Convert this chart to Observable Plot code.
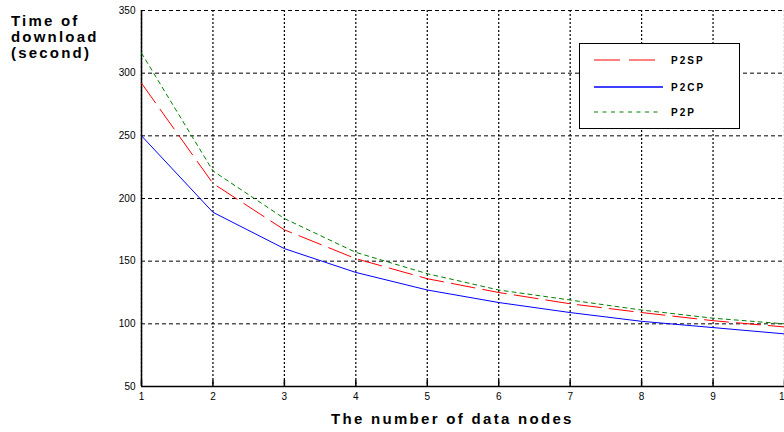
<!DOCTYPE html>
<html>
<head>
<meta charset="utf-8">
<script src="https://cdn.jsdelivr.net/npm/d3@7"></script>
<script src="https://cdn.jsdelivr.net/npm/@observablehq/plot@0.6"></script>
<style>
  body { margin: 0; background: #fff; }
  #wrap { position: relative; width: 784px; height: 432px; overflow: hidden; font-family: "Liberation Sans", Arial, sans-serif; background: #fff; }
  #ylabel { position: absolute; left: 11px; top: 13px; font-weight: bold; font-size: 15px; letter-spacing: 2.2px; line-height: 16px; color: #000; }
  #xlabel { position: absolute; left: 331px; top: 411px; font-weight: bold; font-size: 15px; letter-spacing: 2.3px; line-height: 15px; color: #000; white-space: nowrap; }
  #legend { position: absolute; left: 579px; top: 43px; width: 159px; height: 84px; border: 1.5px solid #000; background: #fff; }
  #legend svg { position: absolute; left: 0; top: 0; }
  #legend text { font-family: "Liberation Sans", Arial, sans-serif; font-size: 10px; font-weight: bold; letter-spacing: 2px; }
  .plot text { letter-spacing: 1px; }
</style>
</head>
<body>
<div id="wrap">
  <div id="chart"></div>
  <div id="ylabel">Time of<br>download<br>(second)</div>
  <div id="xlabel">The number of data nodes</div>
  <div id="legend"></div>
</div>
<script>
const nodes = [1, 2, 3, 4, 5, 6, 7, 8, 9, 10];
const p2sp = [292, 212, 175, 152, 136, 125, 116, 109, 102.5, 97.5];
const p2cp = [250, 189, 160, 141, 127, 117, 109, 102, 97, 92];
const p2p  = [316, 222, 184, 157, 140, 127, 119, 111, 104.5, 100];
const xTicks = [1, 2, 3, 4, 5, 6, 7, 8, 9, 10];
const yTicks = [50, 100, 150, 200, 250, 300, 350];
const seriesNames = ["P2SP", "P2CP", "P2P"];
const seriesColors = ["#ff0000", "#0000ff", "#008000"];
const seriesDash = ["24,8", null, "4,4"];

const rows = (vals) => nodes.map((n, i) => ({x: n, y: vals[i]}));

const chart = Plot.plot({
  width: 784,
  height: 432,
  marginLeft: 141,
  marginRight: 0,
  marginTop: 10,
  marginBottom: 46,
  style: { background: "#fff", fontFamily: "Liberation Sans, Arial, sans-serif", fontSize: "10px", color: "#000" },
  x: { domain: [1, 10], label: null },
  y: { domain: [50, 350], label: null },
  marks: [
    Plot.gridX(xTicks, { stroke: "#000", strokeOpacity: 1, strokeWidth: 1.2, strokeDasharray: "2,2" }),
    Plot.gridY(yTicks, { stroke: "#000", strokeOpacity: 1, strokeWidth: 1, strokeDasharray: "4,3" }),
    Plot.ruleX(xTicks, { y1: 50, y2: 55, stroke: "#000", strokeWidth: 1.5 }),
    Plot.ruleX([1], { stroke: "#000", strokeWidth: 1.5 }),
    Plot.ruleY([50], { stroke: "#000", strokeWidth: 1.5 }),
    Plot.axisX({ ticks: xTicks, tickSize: 0, tickPadding: 6, fontSize: 10, label: null }),
    Plot.axisY({ ticks: yTicks, tickSize: 0, tickPadding: 6, fontSize: 10, label: null }),
    Plot.line(rows(p2p),  { x: "x", y: "y", stroke: seriesColors[2], strokeWidth: 1, strokeDasharray: seriesDash[2] }),
    Plot.line(rows(p2sp), { x: "x", y: "y", stroke: seriesColors[0], strokeWidth: 1, strokeDasharray: seriesDash[0] }),
    Plot.line(rows(p2cp), { x: "x", y: "y", stroke: seriesColors[1], strokeWidth: 1 })
  ]
});
document.getElementById("chart").appendChild(chart);

// Legend
const lg = d3.select("#legend").append("svg").attr("width", 160).attr("height", 86);
const ys = [16, 43, 68];
const ends = [76, 83, 81];
seriesNames.forEach((name, i) => {
  const ln = lg.append("line")
    .attr("x1", 14).attr("x2", ends[i])
    .attr("y1", ys[i]).attr("y2", ys[i])
    .attr("stroke", seriesColors[i])
    .attr("stroke-width", i === 1 ? 1.5 : 1);
  if (i === 0) ln.attr("stroke-dasharray", "26,9");
  if (i === 2) ln.attr("stroke-dasharray", "4,4.5");
  lg.append("text").attr("x", 91).attr("y", ys[i]).attr("dy", "0.35em").text(name);
});
</script>
</body>
</html>
